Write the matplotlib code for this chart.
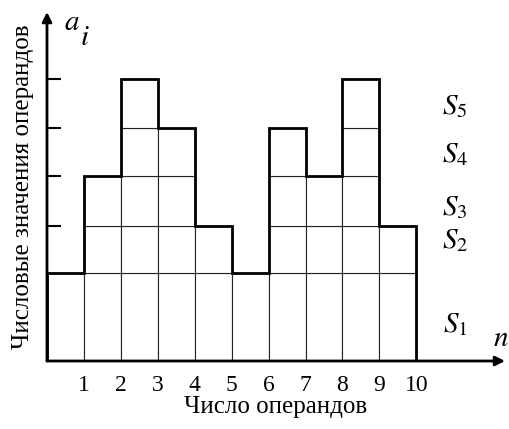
import numpy as np
import matplotlib.pyplot as plt

plt.rcParams['font.family'] = 'Liberation Serif'
plt.rcParams['mathtext.fontset'] = 'stix'

# number of operands (bar right edges) and layer stack per bar
operands = [1, 2, 3, 4, 5, 6, 7, 8, 9, 10]
layers_per_bar = [1, 3, 5, 4, 2, 1, 4, 3, 5, 2]
# heights of layers S1..S5
layer_heights = [1.83, 0.98, 1.05, 1.0, 1.02]
layer_names = ['$S_1$', '$S_2$', '$S_3$', '$S_4$', '$S_5$']
layer_label_y = [0.75, 2.5, 3.2, 4.3, 5.3]


def main():
    fig = plt.figure(figsize=(5.1, 4.29), dpi=100)
    ax = fig.add_axes([47 / 510, 68 / 429, 458 / 510, 349 / 429])
    ax.set_xlim(0, 12.4)
    ax.set_ylim(0, 7.27)

    cum = np.concatenate([[0], np.cumsum(layer_heights)])
    edges = np.arange(len(operands) + 1)

    # stacked cells
    for i, n in enumerate(layers_per_bar):
        for k in range(n):
            ax.bar(edges[i], layer_heights[k], width=1, bottom=cum[k],
                   align='edge', facecolor='white', edgecolor='#222222',
                   linewidth=0.8, zorder=2)

    # outer silhouette
    totals = [cum[n] for n in layers_per_bar]
    ax.stairs(totals, edges, baseline=0, color='black', linewidth=2, zorder=3)

    for s in ax.spines.values():
        s.set_visible(False)

    # axes with arrows
    ax.annotate('', xy=(1.0, 0), xytext=(0, 0), xycoords='axes fraction',
                arrowprops=dict(arrowstyle='-|>', color='black', lw=2,
                                mutation_scale=14, shrinkA=0, shrinkB=0))
    ax.annotate('', xy=(0, 1.0), xytext=(0, 0), xycoords='axes fraction',
                arrowprops=dict(arrowstyle='-|>', color='black', lw=2,
                                mutation_scale=14, shrinkA=0, shrinkB=0))

    ax.set_xticks(operands)
    ax.set_xticklabels([str(v) for v in operands], fontsize=17)
    ax.tick_params(axis='x', length=0, pad=10)
    ax.set_yticks(cum[2:])
    ax.set_yticklabels([])
    ax.tick_params(axis='y', direction='in', length=10, width=1.5)

    ax.set_xlabel('Число операндов', fontsize=18, labelpad=0)
    ax.set_ylabel('Числовые значения операндов', fontsize=18, labelpad=6)

    for name, y in zip(layer_names, layer_label_y):
        ax.text(11.05, y, name, fontsize=21, ha='center', va='center')
    ax.text(0.68, 7.05, '$a$', fontsize=21, ha='center', va='center')
    ax.text(1.02, 6.72, '$i$', fontsize=21, ha='center', va='center')
    ax.text(12.3, 0.45, '$n$', fontsize=21, ha='center', va='center', clip_on=False)

    fig.savefig('out.png', dpi=100)


if __name__ == "__main__":
    main()
